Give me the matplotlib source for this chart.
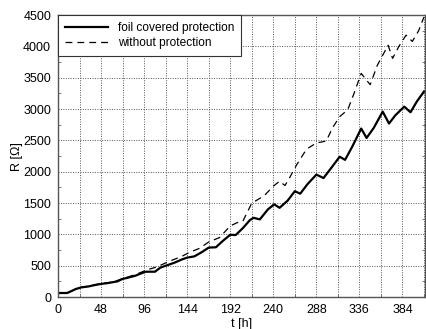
import numpy as np
import matplotlib.pyplot as plt
from matplotlib.ticker import MultipleLocator

plt.rcParams['font.family'] = ['Liberation Sans', 'DejaVu Sans']

# foil covered protection
t_foil = [0, 10, 14, 20, 26, 34, 42, 48, 56, 62, 66, 72, 78, 86, 92, 98, 108, 114, 120,
          130, 138, 144, 152, 160, 168, 176, 184, 192, 198, 206, 214, 218, 225, 234, 241,
          247, 256, 264, 270, 278, 288, 296, 304, 314, 320, 328, 338, 344, 352, 362, 369,
          376, 386, 393, 400, 408]
r_foil = [65, 65, 90, 130, 155, 170, 195, 210, 225, 240, 250, 290, 310, 340, 375, 405, 405,
          470, 500, 550, 600, 630, 650, 715, 790, 795, 900, 995, 990, 1100, 1230, 1265,
          1240, 1400, 1480, 1425, 1540, 1690, 1650, 1800, 1955, 1900, 2050, 2240, 2190,
          2400, 2690, 2540, 2700, 2960, 2770, 2900, 3040, 2950, 3120, 3280]

# without protection
t_bare = [0, 10, 14, 20, 26, 34, 42, 48, 56, 62, 72, 80, 90, 99, 110, 123, 138, 146, 158,
          168, 180, 192, 200, 206, 216, 222, 230, 240, 247, 253, 258, 266, 277, 288, 299,
          306, 314, 323, 330, 338, 348, 356, 368, 373, 380, 388, 395, 402, 408]
r_bare = [65, 65, 90, 130, 155, 175, 200, 215, 230, 245, 295, 330, 380, 435, 480, 565, 650,
          710, 780, 880, 950, 1135, 1190, 1210, 1500, 1550, 1620, 1770, 1850, 1780, 1900,
          2110, 2360, 2460, 2490, 2700, 2880, 2990, 3250, 3570, 3390, 3700, 4020, 3810,
          4000, 4180, 4080, 4250, 4470]

fig = plt.figure(figsize=(4.27, 3.29), dpi=100)
ax = fig.add_axes([0.136, 0.097, 0.859, 0.857])

ax.plot(t_foil, r_foil, color='black', lw=1.6, label='foil covered protection')
ax.plot(t_bare, r_bare, color='black', lw=0.9, dashes=(5.5, 4), label='without protection')

ax.set_xlim(0, 409)
ax.set_ylim(0, 4500)
ax.xaxis.set_major_locator(MultipleLocator(48))
ax.xaxis.set_minor_locator(MultipleLocator(24))
ax.yaxis.set_major_locator(MultipleLocator(500))
ax.yaxis.set_minor_locator(MultipleLocator(250))

ax.grid(which='major', axis='both', color='#555555', ls=(0, (1, 1.5)), lw=0.7)
ax.grid(which='minor', axis='x', color='#555555', ls=(0, (1, 1.5)), lw=0.7)
ax.tick_params(which='major', length=0, labelsize=9, pad=5)
ax.tick_params(which='minor', direction='in', length=2, width=0.6, color='#666666',
               left=True, right=True, bottom=True)
for s in ax.spines.values():
    s.set_color('#555555')
    s.set_linewidth(1.0)

ax.set_xlabel('t [h]', fontsize=9)
ax.set_ylabel('R [Ω]', fontsize=9)
ax.xaxis.set_label_coords(0.5, -0.075)
ax.yaxis.set_label_coords(-0.095, 0.5)

leg = ax.legend(loc='upper left', bbox_to_anchor=(0, 1), borderaxespad=0,
                fancybox=False, framealpha=1, edgecolor='#333333', fontsize=8.6,
                handlelength=3.6, handletextpad=0.8, borderpad=0.6,
                labelspacing=0.25)
leg.get_frame().set_linewidth(0.8)

fig.savefig('out.png', dpi=100)
